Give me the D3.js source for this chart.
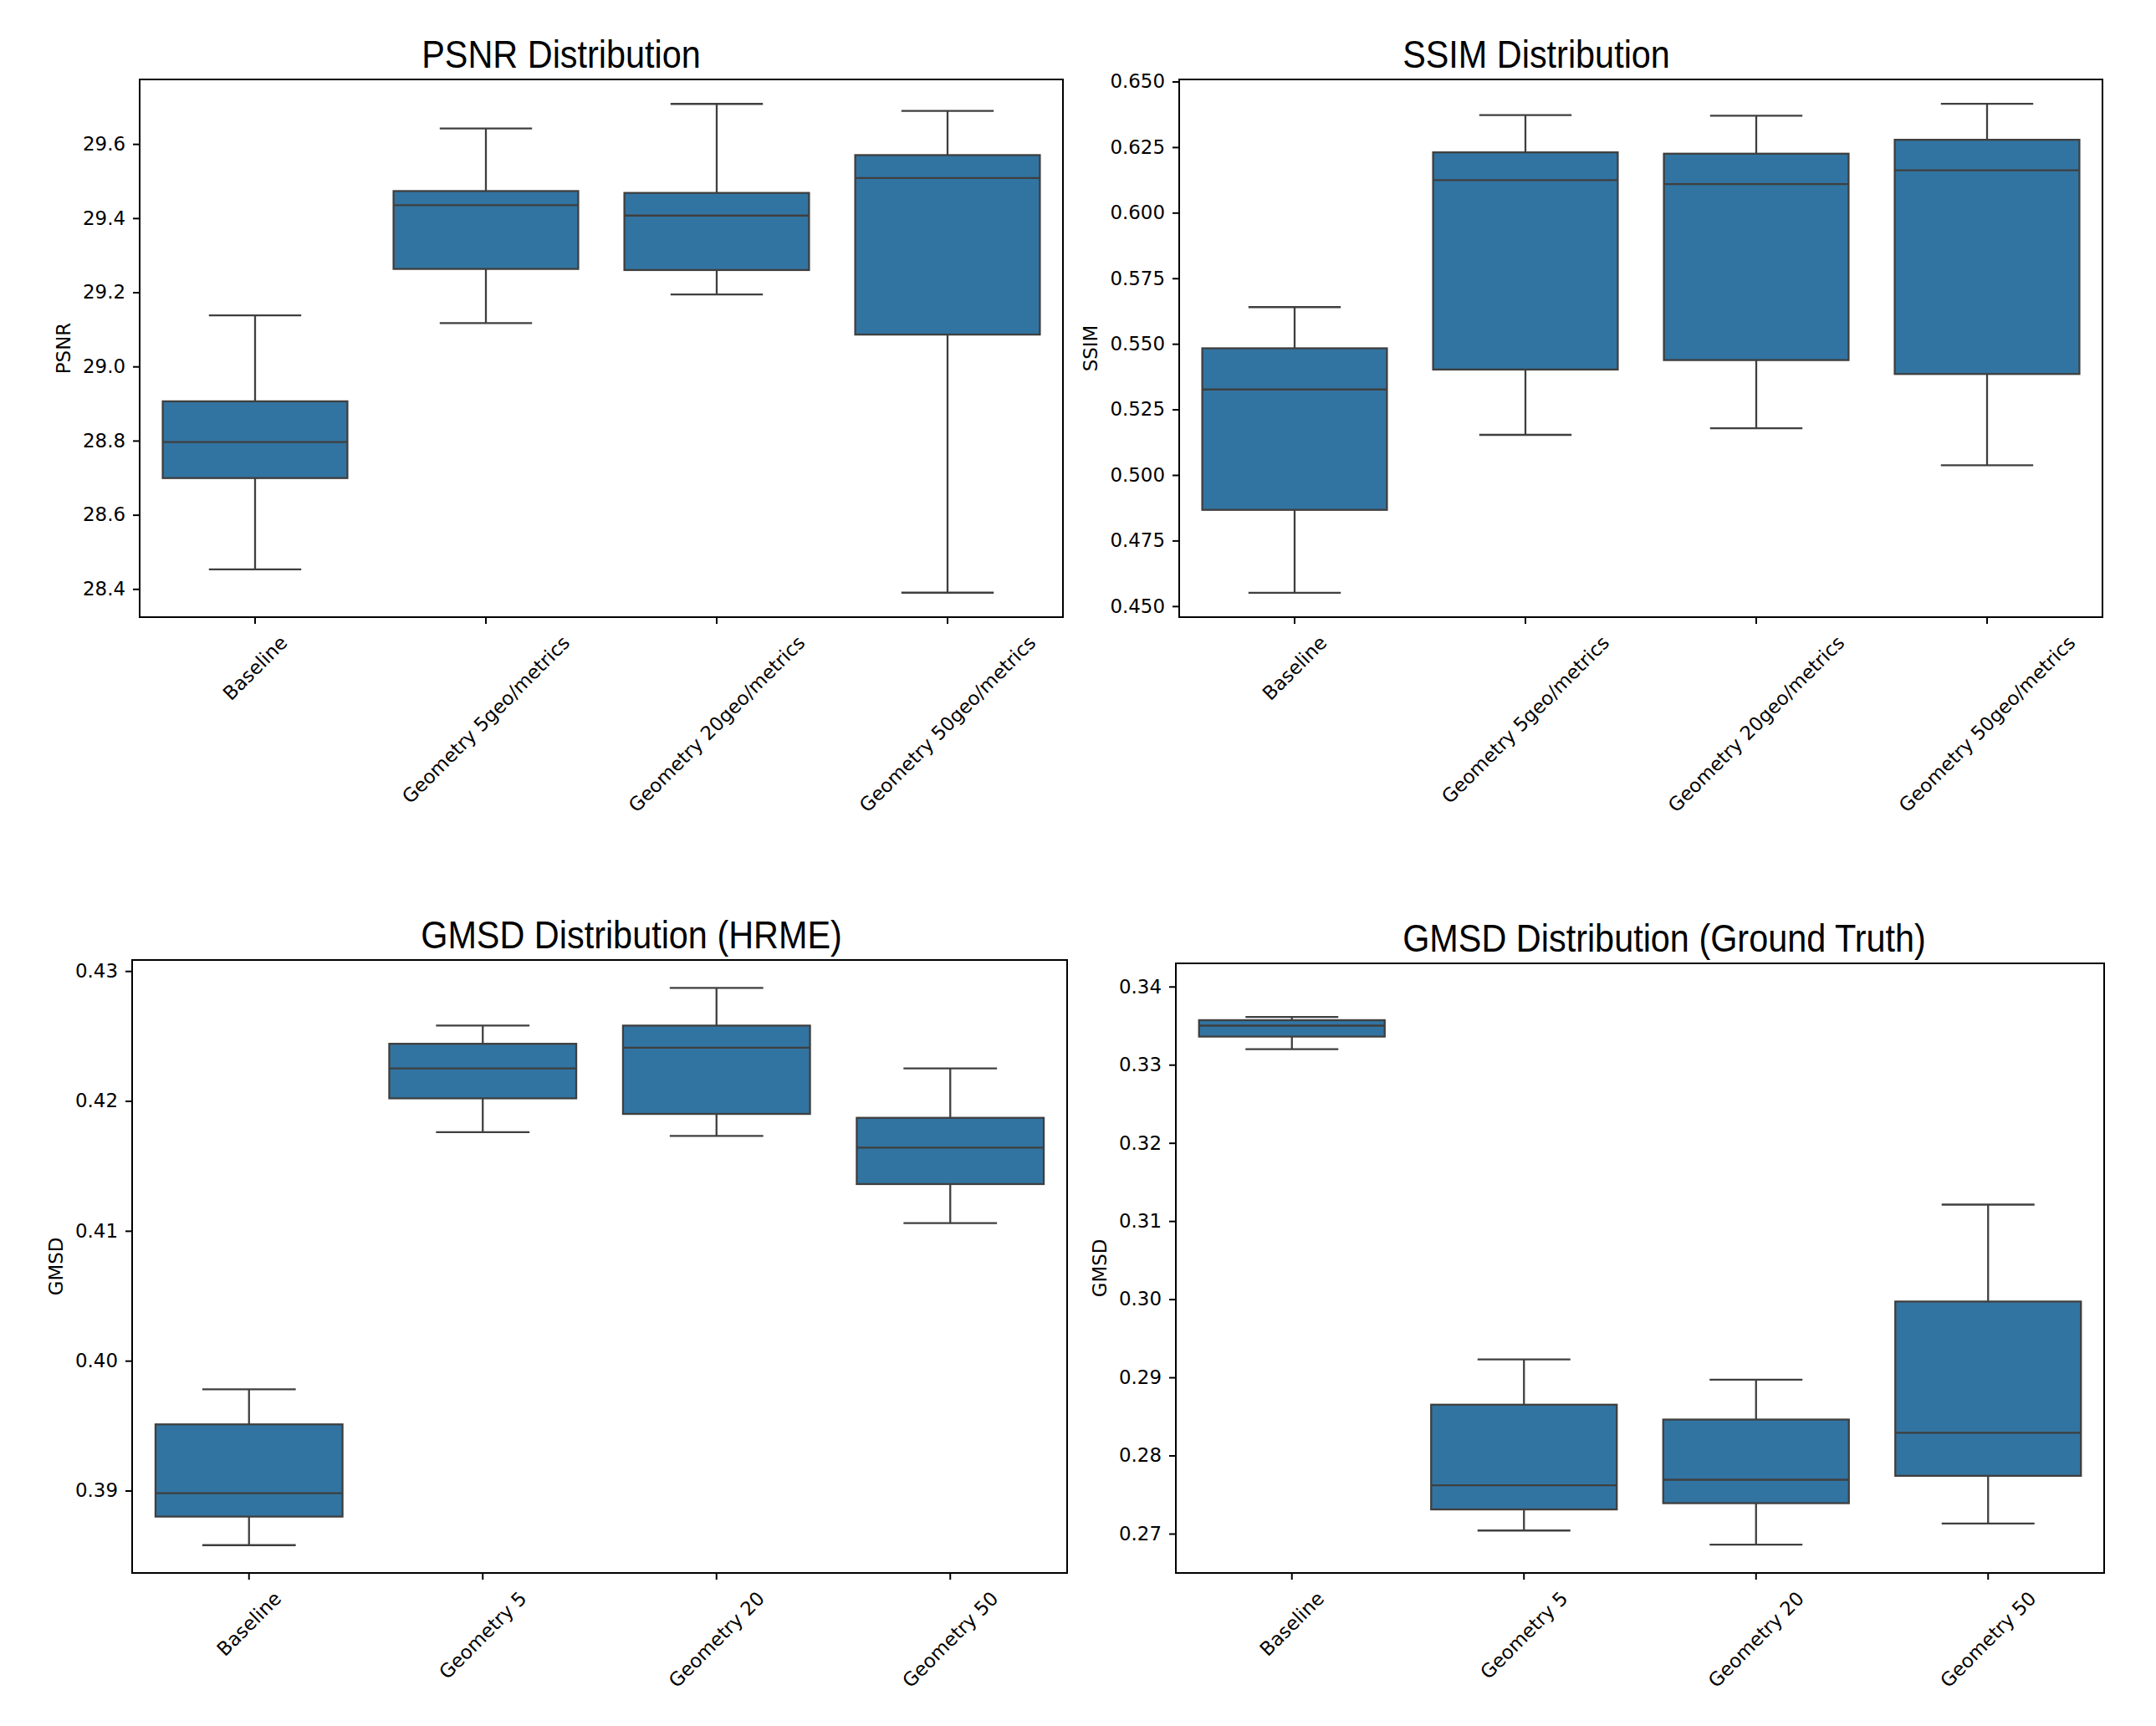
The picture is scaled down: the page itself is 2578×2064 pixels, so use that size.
<!DOCTYPE html>
<html>
<head>
<meta charset="utf-8">
<script src="https://cdn.jsdelivr.net/npm/d3@7"></script>
<style>
  html, body { margin: 0; padding: 0; background: #ffffff; }
  svg { display: block; }
</style>
</head>
<body>
<script>
// ---------------- DATA ----------------
const categoriesTop = ["Baseline", "Geometry 5geo/metrics", "Geometry 20geo/metrics", "Geometry 50geo/metrics"];
const categoriesBottom = ["Baseline", "Geometry 5", "Geometry 20", "Geometry 50"];

// each entry: [lower whisker, Q1, median, Q3, upper whisker]
const psnrStats = [
  [28.453, 28.699, 28.796, 28.906, 29.138],
  [29.117, 29.263, 29.435, 29.473, 29.642],
  [29.194, 29.260, 29.407, 29.468, 29.708],
  [28.390, 29.086, 29.508, 29.570, 29.689]
];
const ssimStats = [
  [0.4551, 0.4867, 0.5326, 0.5483, 0.5640],
  [0.5153, 0.5402, 0.6124, 0.6230, 0.6372],
  [0.5178, 0.5438, 0.6109, 0.6225, 0.6370],
  [0.5037, 0.5385, 0.6162, 0.6278, 0.6415]
];
const gmsdHrmeStats = [
  [0.3858, 0.3880, 0.3898, 0.3951, 0.3978],
  [0.4176, 0.4202, 0.4225, 0.4244, 0.4258],
  [0.4173, 0.4190, 0.4241, 0.4258, 0.4287],
  [0.4106, 0.4136, 0.4164, 0.4187, 0.4225]
];
const gmsdGtStats = [
  [0.3320, 0.3336, 0.3350, 0.3357, 0.3361],
  [0.2704, 0.2731, 0.2762, 0.2865, 0.2923],
  [0.2686, 0.2739, 0.2769, 0.2846, 0.2897],
  [0.2713, 0.2774, 0.2829, 0.2997, 0.3121]
];

const psnrTicks = [28.4, 28.6, 28.8, 29.0, 29.2, 29.4, 29.6];
const ssimTicks = [0.450, 0.475, 0.500, 0.525, 0.550, 0.575, 0.600, 0.625, 0.650];
const gmsdHrmeTicks = [0.39, 0.40, 0.41, 0.42, 0.43];
const gmsdGtTicks = [0.27, 0.28, 0.29, 0.30, 0.31, 0.32, 0.33, 0.34];

const psnrDomain = [28.324, 29.774];
const ssimDomain = [0.4458, 0.6508];
const gmsdHrmeDomain = [0.38366, 0.43085];
const gmsdGtDomain = [0.26497, 0.34297];

const titles = ["PSNR Distribution", "SSIM Distribution", "GMSD Distribution (HRME)", "GMSD Distribution (Ground Truth)"];
const yLabels = ["PSNR", "SSIM", "GMSD", "GMSD"];

// ---------------- LAYOUT / STYLE ----------------
const W = 2578, H = 2064;
const panels = [
  { title: titles[0], ylabel: yLabels[0], cats: categoriesTop, stats: psnrStats, ticks: psnrTicks, domain: psnrDomain, fmt: ".1f",
    x: 167, y: 95, w: 1104, h: 643, titleX: 671 },
  { title: titles[1], ylabel: yLabels[1], cats: categoriesTop, stats: ssimStats, ticks: ssimTicks, domain: ssimDomain, fmt: ".3f",
    x: 1410, y: 95, w: 1104, h: 643, titleX: 1837 },
  { title: titles[2], ylabel: yLabels[2], cats: categoriesBottom, stats: gmsdHrmeStats, ticks: gmsdHrmeTicks, domain: gmsdHrmeDomain, fmt: ".2f",
    x: 158, y: 1148, w: 1118, h: 733, titleX: 755 },
  { title: titles[3], ylabel: yLabels[3], cats: categoriesBottom, stats: gmsdGtStats, ticks: gmsdGtTicks, domain: gmsdGtDomain, fmt: ".2f",
    x: 1406, y: 1152, w: 1110, h: 729, titleX: 1990 }
];

const boxFill = "#3274a1";
const lineColor = "#3f3f3f";
const boxLW = 2.3;
const tickFont = "'DejaVu Sans', sans-serif";
const tickSize = 22.9;

const svg = d3.select("body").append("svg")
  .attr("width", W).attr("height", H)
  .attr("viewBox", `0 0 ${W} ${H}`);
svg.append("rect").attr("width", W).attr("height", H).attr("fill", "#ffffff");

panels.forEach(p => {
  const g = svg.append("g").attr("transform", `translate(${p.x},${p.y})`);

  const x = d3.scaleBand().domain(p.cats).range([0, p.w]).paddingInner(0.2).paddingOuter(0.1);
  const y = d3.scaleLinear().domain(p.domain).range([p.h, 0]);
  const bw = x.bandwidth();
  const capW = bw * 0.5;

  // boxes
  const box = g.selectAll("g.box").data(p.cats.map((c, i) => ({ c, s: p.stats[i] })))
    .enter().append("g").attr("class", "box");

  box.each(function(d) {
    const bg = d3.select(this);
    const cx = x(d.c) + bw / 2;
    const [lo, q1, med, q3, hi] = d.s;
    bg.append("line").attr("x1", cx).attr("x2", cx).attr("y1", y(q1)).attr("y2", y(lo))
      .attr("stroke", lineColor).attr("stroke-width", boxLW);
    bg.append("line").attr("x1", cx).attr("x2", cx).attr("y1", y(q3)).attr("y2", y(hi))
      .attr("stroke", lineColor).attr("stroke-width", boxLW);
    [lo, hi].forEach(v => {
      bg.append("line").attr("x1", cx - capW / 2).attr("x2", cx + capW / 2).attr("y1", y(v)).attr("y2", y(v))
        .attr("stroke", lineColor).attr("stroke-width", boxLW);
    });
    bg.append("rect").attr("x", x(d.c)).attr("width", bw)
      .attr("y", y(q3)).attr("height", y(q1) - y(q3))
      .attr("fill", boxFill).attr("stroke", lineColor).attr("stroke-width", boxLW);
    bg.append("line").attr("x1", x(d.c)).attr("x2", x(d.c) + bw).attr("y1", y(med)).attr("y2", y(med))
      .attr("stroke", lineColor).attr("stroke-width", boxLW);
  });

  // y axis
  const yAxis = g.append("g").call(
    d3.axisLeft(y).tickValues(p.ticks).tickFormat(d3.format(p.fmt)).tickSize(8).tickPadding(9)
  );
  yAxis.select(".domain").remove();
  yAxis.attr("font-family", null).attr("font-size", null);
  yAxis.selectAll(".tick line").attr("stroke", "#000").attr("stroke-width", 2);
  yAxis.selectAll(".tick text").attr("font-family", tickFont).attr("font-size", tickSize).attr("fill", "#000");

  let maxW = 0;
  yAxis.selectAll(".tick text").each(function() { maxW = Math.max(maxW, this.getComputedTextLength()); });

  // x axis
  const xAxis = g.append("g").attr("transform", `translate(0,${p.h})`).call(
    d3.axisBottom(x).tickSize(8).tickPadding(0)
  );
  xAxis.select(".domain").remove();
  xAxis.attr("font-family", null).attr("font-size", null);
  xAxis.selectAll(".tick line").attr("stroke", "#000").attr("stroke-width", 2);
  xAxis.selectAll(".tick text")
    .attr("font-family", tickFont).attr("font-size", tickSize).attr("fill", "#000")
    .attr("text-anchor", "middle").attr("y", null).attr("dy", "0.346em")
    .each(function() {
      const len = this.getComputedTextLength();
      const hgt = tickSize * 1.164;
      const half = (len + hgt) * Math.SQRT1_2 / 2;
      d3.select(this).attr("transform", `translate(0,${17 + half}) rotate(-45)`);
    });

  // spines
  g.append("rect").attr("x", 0).attr("y", 0).attr("width", p.w).attr("height", p.h)
    .attr("fill", "none").attr("stroke", "#000").attr("stroke-width", 2);

  // y label
  g.append("text")
    .attr("transform", `translate(${-(8 + 9 + maxW + 15)},${p.h / 2}) rotate(-90)`)
    .attr("text-anchor", "middle")
    .attr("font-family", tickFont).attr("font-size", tickSize).attr("fill", "#000")
    .text(p.ylabel);

  // title
  svg.append("text")
    .attr("transform", `translate(${p.titleX},${p.y - 14}) scale(0.9,1)`)
    .attr("text-anchor", "middle")
    .attr("font-family", "'Liberation Sans', Arial, sans-serif").attr("font-size", 46).attr("fill", "#000")
    .text(p.title);
});
</script>
</body>
</html>
